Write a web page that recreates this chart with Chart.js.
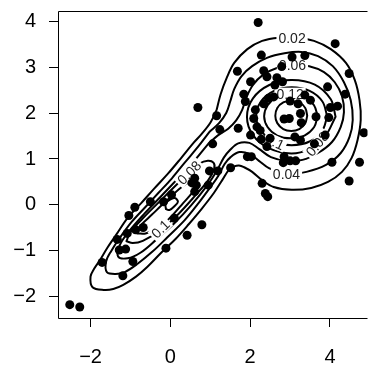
<!DOCTYPE html>
<html>
<head>
<meta charset="utf-8">
<script src="https://cdn.jsdelivr.net/npm/chart.js@4.4.1/dist/chart.umd.min.js"></script>
<style>
  html, body { margin: 0; padding: 0; background: #fff; }
  #densityChart { display: block; }
</style>
</head>
<body>
<canvas id="densityChart" width="372" height="367"></canvas>
<script>
// axis ticks
const xTicks = [-2, 0, 2, 4];
const yTicks = [-2, -1, 0, 1, 2, 3, 4];

// observed points
const samplePoints = [
  [2.20, 3.97], [4.13, 3.51], [2.28, 3.26], [3.05, 3.22], [3.37, 3.25], [4.48, 2.86],
  [1.68, 2.91], [2.34, 2.92], [2.42, 2.79], [2.79, 3.01], [2.67, 2.77], [2.81, 2.68],
  [2.62, 2.61], [2.01, 2.68], [1.84, 2.41], [1.88, 2.25], [3.94, 2.57], [4.38, 2.41],
  [4.19, 2.15], [4.01, 2.12], [3.97, 1.90], [3.37, 2.39], [3.51, 2.28], [3.65, 1.92],
  [2.59, 2.35], [2.46, 2.32], [2.34, 2.20], [3.00, 2.26], [3.20, 2.20], [3.26, 1.99],
  [2.98, 1.88], [2.85, 1.87], [3.28, 1.79], [2.13, 2.07], [2.09, 1.88], [2.17, 1.70],
  [0.69, 2.12], [1.16, 1.94], [1.24, 1.64], [1.70, 1.67], [2.01, 1.52], [2.25, 1.62],
  [2.28, 1.43], [2.42, 1.27], [2.50, 1.45], [3.12, 1.48], [3.26, 1.41], [3.61, 1.33],
  [3.88, 1.52], [4.85, 1.57], [4.74, 0.93], [4.05, 0.93], [4.48, 0.52], [2.85, 1.05],
  [3.00, 0.96], [3.14, 0.96], [2.83, 0.92], [1.93, 1.05], [2.03, 1.05], [1.51, 0.81],
  [2.30, 0.47], [2.38, 0.25], [2.44, 0.18], [1.06, 1.33], [0.98, 0.74], [1.19, 0.74],
  [0.61, 0.58], [0.54, 0.48], [0.65, 0.43], [0.95, 0.43], [0.61, 0.29], [0.03, 0.22],
  [-0.17, 0.07], [-0.50, 0.07], [0.10, -0.29], [0.79, -0.43], [0.42, -0.66], [-0.11, -0.94],
  [-0.89, -0.05], [-1.04, -0.23], [-0.68, -0.49], [-0.87, -0.54], [-1.08, -0.62], [-1.33, -0.75],
  [-1.28, -0.98], [-1.12, -0.96], [-0.94, -1.23], [-1.71, -1.25], [-1.19, -1.54],
  [-2.52, -2.17], [-2.27, -2.22]
];

// density contours, one closed path per piece
const level002 = [
  [1.16, 2.07], [1.26, 2.41], [1.41, 2.76], [1.60, 3.09], [1.93, 3.39], [2.30, 3.57], [2.72, 3.64],
  [3.16, 3.64], [3.60, 3.57], [4.02, 3.39], [4.40, 3.09], [4.62, 2.72], [4.74, 2.28], [4.77, 1.85],
  [4.69, 1.41], [4.54, 1.02], [4.30, 0.72], [3.95, 0.50], [3.53, 0.37], [3.04, 0.33], [2.59, 0.39],
  [2.30, 0.54], [2.05, 0.72], [1.85, 0.82], [1.72, 0.86], [1.60, 0.84], [1.48, 0.78], [1.30, 0.54],
  [1.09, 0.26], [0.78, -0.09], [0.46, -0.42], [0.13, -0.74], [-0.23, -1.04], [-0.58, -1.35],
  [-0.86, -1.56], [-1.18, -1.74], [-1.43, -1.83], [-1.67, -1.85], [-1.95, -1.79], [-2.00, -1.56],
  [-1.91, -1.39], [-1.77, -1.21], [-1.57, -0.92], [-1.35, -0.64], [-1.07, -0.28], [-0.73, 0.04],
  [-0.40, 0.36], [-0.06, 0.68], [0.26, 1.01], [0.58, 1.35], [0.78, 1.54], [1.01, 1.80], [1.16, 2.07]
];
const level004 = [
  [0.99, 1.60], [1.22, 1.78], [1.40, 2.00], [1.50, 2.25], [1.60, 2.52], [1.78, 2.80], [2.05, 3.02],
  [2.42, 3.20], [2.86, 3.30], [3.28, 3.33], [3.70, 3.24], [4.07, 3.02], [4.35, 2.67], [4.52, 2.28],
  [4.57, 1.85], [4.49, 1.48], [4.27, 1.13], [3.90, 0.87], [3.41, 0.72], [2.91, 0.67], [2.47, 0.80],
  [2.22, 0.96], [1.98, 1.11], [1.73, 1.15], [1.51, 1.04], [1.36, 0.89], [1.20, 0.63], [0.98, 0.36],
  [0.68, 0.01], [0.36, -0.33], [-0.08, -0.71], [-0.44, -1.01], [-0.82, -1.28], [-1.14, -1.46],
  [-1.37, -1.50], [-1.59, -1.46], [-1.61, -1.23], [-1.48, -1.00], [-1.27, -0.72], [-0.97, -0.37],
  [-0.63, -0.05], [-0.29, 0.27], [0.04, 0.58], [0.36, 0.92], [0.68, 1.25], [0.99, 1.60]
];
const level006 = [
  [0.95, 1.33], [1.20, 1.52], [1.45, 1.66], [1.65, 1.84], [1.80, 2.07], [1.90, 2.33], [2.07, 2.61],
  [2.32, 2.83], [2.67, 2.98], [3.06, 3.04], [3.48, 3.02], [3.85, 2.89], [4.12, 2.67], [4.30, 2.37],
  [4.35, 2.02], [4.27, 1.70], [4.05, 1.37], [3.70, 1.13], [3.31, 0.98], [2.91, 0.96], [2.52, 1.04],
  [2.22, 1.22], [1.98, 1.35], [1.70, 1.34], [1.50, 1.20], [1.34, 1.03], [1.17, 0.75], [0.92, 0.42],
  [0.52, -0.01], [0.10, -0.40], [-0.36, -0.76], [-0.75, -1.04], [-1.07, -1.16], [-1.31, -1.12],
  [-1.27, -0.88], [-1.06, -0.60], [-0.65, -0.19], [-0.22, 0.20], [0.29, 0.67], [0.63, 0.99], [0.95, 1.33]
];
const level008Left = [
  [-1.10, -0.79], [-1.00, -0.59], [-0.70, -0.30], [-0.17, 0.16], [0.18, 0.46], [0.47, 0.70],
  [0.73, 0.90], [0.94, 0.96], [1.08, 0.92], [1.10, 0.79], [0.95, 0.54], [0.63, 0.21], [0.21, -0.19],
  [-0.25, -0.55], [-0.69, -0.78], [-0.94, -0.83], [-1.10, -0.79]
];
const level008Right = [
  [4.14, 1.92], [4.02, 2.30], [3.62, 2.62], [3.03, 2.72], [2.48, 2.61], [2.07, 2.32], [1.92, 1.92],
  [2.07, 1.52], [2.48, 1.23], [3.03, 1.12], [3.50, 1.22], [3.85, 1.45], [4.14, 1.92]
];
const level010Left = [
  [-0.83, -0.62], [-0.78, -0.48], [-0.46, -0.21], [-0.10, 0.09], [0.27, 0.38], [0.53, 0.52],
  [0.65, 0.50], [0.60, 0.33], [0.31, 0.03], [-0.02, -0.29], [-0.30, -0.50], [-0.62, -0.62], [-0.83, -0.62]
];
const level010Right = [
  [3.93, 1.93], [3.81, 2.25], [3.49, 2.48], [3.04, 2.56], [2.60, 2.48], [2.27, 2.25], [2.15, 1.93],
  [2.27, 1.62], [2.60, 1.38], [3.04, 1.30], [3.49, 1.38], [3.81, 1.62], [3.93, 1.93]
];
const level012Left = [
  [-0.11, -0.09], [-0.12, 0.02], [-0.02, 0.11], [0.11, 0.15], [0.19, 0.07], [0.10, -0.03],
  [-0.02, -0.11], [-0.11, -0.09]
];
const level012Right = [
  [3.69, 1.93], [3.60, 2.17], [3.36, 2.35], [3.02, 2.41], [2.68, 2.35], [2.44, 2.17], [2.35, 1.93],
  [2.44, 1.69], [2.68, 1.51], [3.02, 1.45], [3.36, 1.51], [3.60, 1.69], [3.69, 1.93]
];
const level014 = [
  [3.43, 1.94], [3.38, 2.11], [3.23, 2.23], [3.03, 2.27], [2.83, 2.23], [2.68, 2.11], [2.63, 1.94],
  [2.68, 1.78], [2.83, 1.65], [3.03, 1.61], [3.23, 1.65], [3.38, 1.78], [3.43, 1.94]
];

const contourPaths = [
  level002, level004, level006, level008Left, level008Right, level010Left,
  level010Right, level012Left, level012Right, level014
];

// level labels sitting on the lines
const contourLabels = [
  { text: '0.02', x: 3.05, y: 3.64, angle: 0 },
  { text: '0.06', x: 3.06, y: 3.04, angle: 0 },
  { text: '0.12', x: 3.00, y: 2.41, angle: 0 },
  { text: '0.1', x: 2.62, y: 1.37, angle: 25 },
  { text: '0.08', x: 3.68, y: 1.33, angle: -50 },
  { text: '0.04', x: 2.91, y: 0.67, angle: 0 },
  { text: '0.08', x: 0.47, y: 0.70, angle: -45 },
  { text: '0.1', x: -0.25, y: -0.52, angle: -45 }
];

const FONT = '"Liberation Sans", Arial, Helvetica, sans-serif';
const minusLabel = v => (v < 0 ? '\u2212' + Math.abs(v) : String(v));

const toXY = arr => arr.map(p => ({ x: p[0], y: p[1] }));

const datasets = [{
  data: toXY(samplePoints),
  pointRadius: 4.5,
  pointBackgroundColor: '#000',
  pointBorderWidth: 0,
  showLine: false,
  order: 0
}];
contourPaths.forEach(path => {
  datasets.push({
    data: toXY(path),
    showLine: true,
    pointRadius: 0,
    borderColor: '#000',
    borderWidth: 2,
    tension: 0.35,
    fill: false,
    order: 1
  });
});

// labels go on top of the lines but under the points
const labelPlugin = {
  id: 'contourLabels',
  beforeDatasetDraw(chart, args) {
    if (args.index !== 0) return;
    const { ctx, scales } = chart;
    ctx.save();
    ctx.font = '14px ' + FONT;
    ctx.textAlign = 'center';
    ctx.textBaseline = 'middle';
    contourLabels.forEach(l => {
      const px = scales.x.getPixelForValue(l.x);
      const py = scales.y.getPixelForValue(l.y);
      const w = ctx.measureText(l.text).width;
      ctx.save();
      ctx.translate(px, py);
      ctx.rotate(l.angle * Math.PI / 180);
      ctx.fillStyle = '#fff';
      ctx.fillRect(-w / 2 - 2, -6.5, w + 4, 13);
      ctx.fillStyle = '#222';
      ctx.fillText(l.text, 0, 1);
      ctx.restore();
    });
    ctx.restore();
  }
};

// open box: left, top and bottom edges
const boxPlugin = {
  id: 'plotBox',
  afterDraw(chart) {
    const { ctx, chartArea: a } = chart;
    ctx.save();
    ctx.strokeStyle = '#000';
    ctx.lineWidth = 1;
    ctx.beginPath();
    ctx.moveTo(a.right, a.top + 0.5);
    ctx.lineTo(a.left + 0.5, a.top + 0.5);
    ctx.lineTo(a.left + 0.5, a.bottom + 0.5);
    ctx.lineTo(a.right, a.bottom + 0.5);
    ctx.stroke();
    ctx.restore();
  }
};

new Chart(document.getElementById('densityChart').getContext('2d'), {
  type: 'scatter',
  data: { datasets },
  options: {
    responsive: false,
    animation: false,
    layout: { padding: { top: 11, right: 0, bottom: 0, left: 0 } },
    plugins: { legend: { display: false }, tooltip: { enabled: false } },
    elements: { line: { borderJoinStyle: 'round', borderCapStyle: 'round' } },
    scales: {
      x: {
        type: 'linear',
        min: -2.815,
        max: 4.94,
        afterFit: s => { s.height = 49; s.paddingLeft = 0; s.paddingRight = 0; },
        afterBuildTicks: s => { s.ticks = xTicks.map(v => ({ value: v })); },
        grid: { drawOnChartArea: false, drawTicks: true, tickLength: 9, color: '#000', lineWidth: 1 },
        border: { display: false },
        ticks: { color: '#000', padding: 18, font: { size: 20, family: FONT }, callback: minusLabel, maxRotation: 0 }
      },
      y: {
        type: 'linear',
        min: -2.46,
        max: 4.22,
        afterFit: s => { s.width = 58; s.paddingTop = 0; s.paddingBottom = 0; },
        afterBuildTicks: s => { s.ticks = yTicks.map(v => ({ value: v })); },
        grid: { drawOnChartArea: false, drawTicks: true, tickLength: 9, color: '#000', lineWidth: 1 },
        border: { display: false },
        ticks: { color: '#000', padding: 13, font: { size: 20, family: FONT }, callback: minusLabel }
      }
    }
  },
  plugins: [labelPlugin, boxPlugin]
});
</script>
</body>
</html>
